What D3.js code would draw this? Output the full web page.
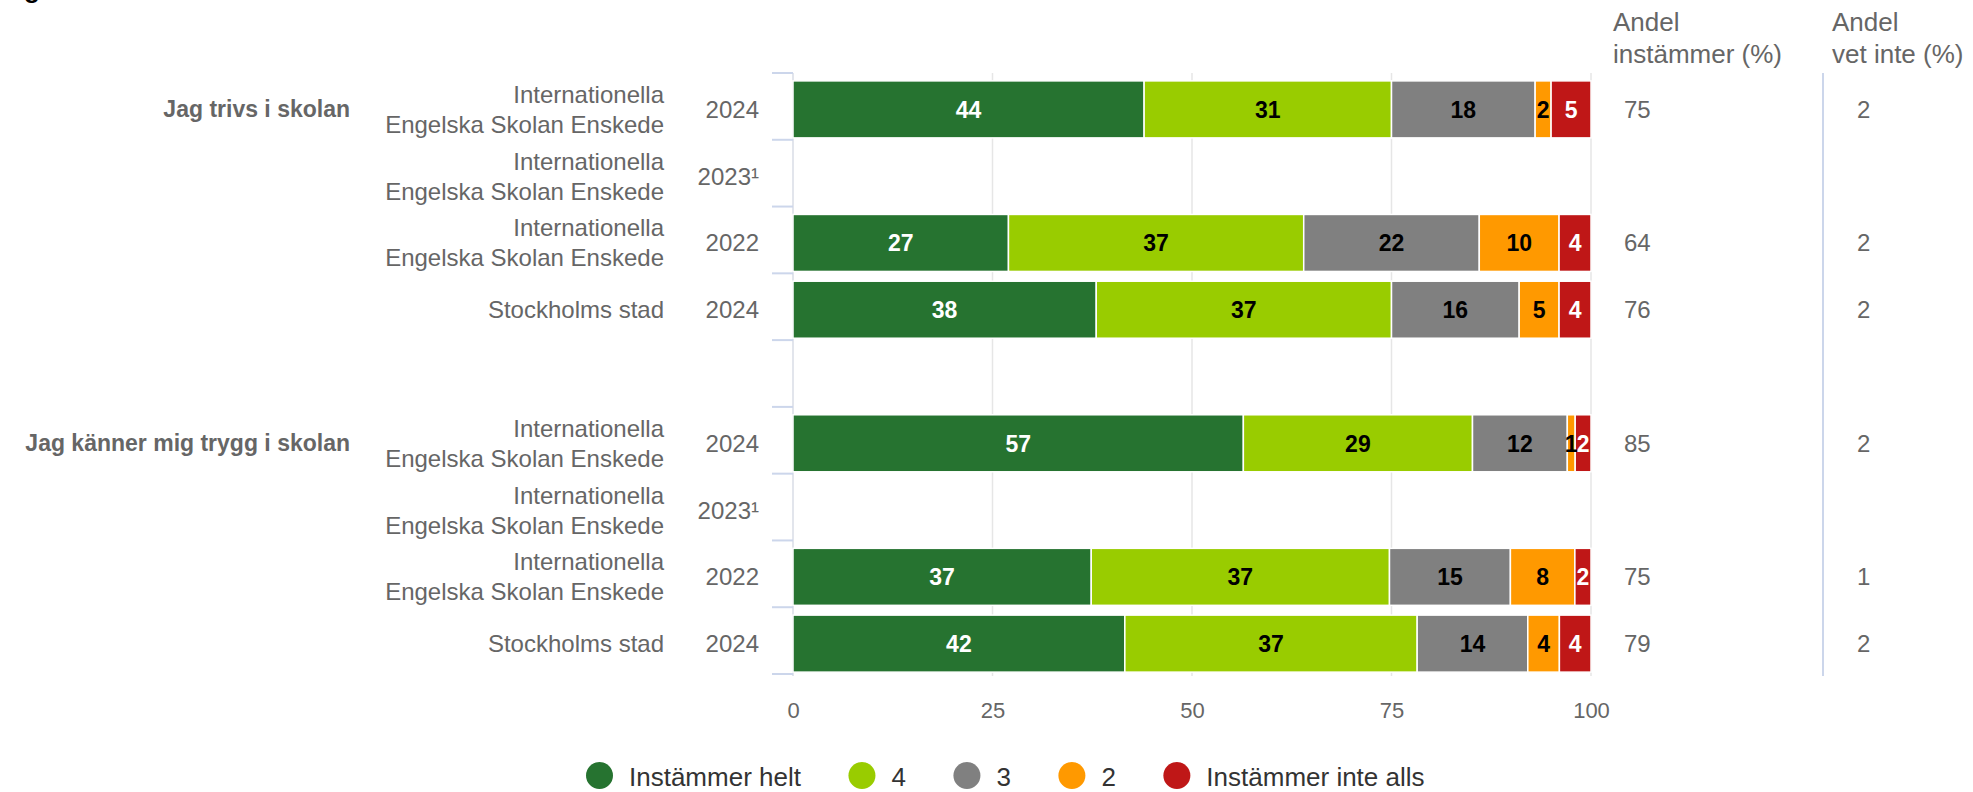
<!DOCTYPE html>
<html>
<head>
<meta charset="utf-8">
<script src="https://cdn.jsdelivr.net/npm/d3@7"></script>
<style>
  html, body { margin: 0; padding: 0; background: #fff; }
  svg { display: block; font-family: "Liberation Sans", Arial, Helvetica, sans-serif; }
</style>
</head>
<body>
<svg id="chart" width="1973" height="792"></svg>
<script>
// ---------- Data ----------
const groupLabels = ["Jag trivs i skolan", "", "", "", "", "Jag känner mig trygg i skolan", "", "", ""];
const unitLabels = [
  ["Internationella", "Engelska Skolan Enskede"],
  ["Internationella", "Engelska Skolan Enskede"],
  ["Internationella", "Engelska Skolan Enskede"],
  ["Stockholms stad"],
  [],
  ["Internationella", "Engelska Skolan Enskede"],
  ["Internationella", "Engelska Skolan Enskede"],
  ["Internationella", "Engelska Skolan Enskede"],
  ["Stockholms stad"]
];
const years = ["2024", "2023¹", "2022", "2024", "", "2024", "2023¹", "2022", "2024"];

const seriesNames = ["Instämmer helt", "4", "3", "2", "Instämmer inte alls"];
const instammerHelt   = [44, null, 27, 38, null, 57, null, 37, 42];
const varde4          = [31, null, 37, 37, null, 29, null, 37, 37];
const varde3          = [18, null, 22, 16, null, 12, null, 15, 14];
const varde2          = [2,  null, 10, 5,  null, 1,  null, 8,  4];
const instammerInte   = [5,  null, 4,  4,  null, 2,  null, 2,  4];

const andelInstammer = [75, null, 64, 76, null, 85, null, 75, 79];
const andelVetInte   = [2,  null, 2,  2,  null, 2,  null, 1,  2];

const xTicks = [0, 25, 50, 75, 100];

// ---------- Styles ----------
const colors = ["#267330", "#99cc00", "#808080", "#ff9900", "#bf1717"];
const labelColors = ["#ffffff", "#000000", "#000000", "#000000", "#ffffff"];

const svg = d3.select("#chart");
const plot = { left: 793, right: 1591, top: 75, bottom: 676 };

const x = d3.scaleLinear().domain([0, 100]).range([plot.left, plot.right]);
const y = d3.scaleBand().domain(d3.range(years.length)).range([plot.top, plot.bottom]).paddingInner(0).paddingOuter(0);
const barH = 57;

// cut-off title remnant at very top
svg.append("text").attr("x", 24).attr("y", -2.5)
  .attr("font-size", 26).attr("font-weight", "bold").attr("fill", "#000").text("g");

// gridlines
svg.append("g").selectAll("line").data(xTicks).join("line")
  .attr("x1", d => x(d)).attr("x2", d => x(d))
  .attr("y1", plot.top - 2).attr("y2", plot.bottom)
  .attr("stroke", "#e6e6e6").attr("stroke-width", 1.5);

// category axis line and ticks
svg.append("line").attr("x1", plot.left).attr("x2", plot.left)
  .attr("y1", plot.top - 2).attr("y2", plot.bottom)
  .attr("stroke", "#dfe3ec").attr("stroke-width", 1.5);
const boundaries = d3.range(years.length + 1).map(i => i === years.length ? plot.bottom : y(i));
svg.append("g").selectAll("line").data(boundaries).join("line")
  .attr("x1", plot.left - 21).attr("x2", plot.left)
  .attr("y1", d => d - 2).attr("y2", d => d - 2)
  .attr("stroke", "#ccd6eb").attr("stroke-width", 2);

// stacked (percent) bars
const allSeries = [instammerHelt, varde4, varde3, varde2, instammerInte];
const rows = years.map((yr, i) => {
  const vals = allSeries.map(s => s[i]);
  if (vals.some(v => v == null)) return null;
  const total = d3.sum(vals);
  let acc = 0;
  return vals.map((v, k) => {
    const seg = { i, k, v, x0: acc / total * 100, x1: (acc + v) / total * 100 };
    acc += v;
    return seg;
  });
}).filter(r => r);
const segs = rows.flat();

const barG = svg.append("g");
barG.selectAll("rect").data(segs).join("rect")
  .attr("x", d => x(d.x0))
  .attr("y", d => y(d.i) + (y.bandwidth() - barH) / 2 + 1)
  .attr("width", d => x(d.x1) - x(d.x0))
  .attr("height", barH)
  .attr("fill", d => colors[d.k])
  .attr("stroke", "#ffffff").attr("stroke-width", 1.5);

barG.selectAll("text").data(segs).join("text")
  .attr("x", d => (x(d.x0) + x(d.x1)) / 2)
  .attr("y", d => y(d.i) + y.bandwidth() / 2 + 1 + 8.5)
  .attr("text-anchor", "middle")
  .attr("font-size", 23).attr("font-weight", "bold")
  .attr("fill", d => labelColors[d.k])
  .text(d => d.v);

// x axis tick labels
const xAxis = d3.axisBottom(x).tickValues(xTicks).tickSize(0).tickPadding(0);
const xg = svg.append("g").attr("transform", `translate(0,${plot.bottom})`).call(xAxis);
xg.select(".domain").remove();
xg.selectAll("text").attr("y", 42).attr("dy", null)
  .attr("font-size", 22).attr("fill", "#666").attr("font-family", "Liberation Sans, Arial, sans-serif");

// category labels
const lab = svg.append("g").attr("fill", "#666");
years.forEach((yr, i) => {
  const cy = y(i) + y.bandwidth() / 2 + 1;
  if (groupLabels[i]) {
    lab.append("text").attr("x", 350).attr("y", cy + 8)
      .attr("text-anchor", "end").attr("font-size", 23).attr("font-weight", "bold")
      .text(groupLabels[i]);
  }
  const lines = unitLabels[i];
  const lh = 30;
  lines.forEach((ln, j) => {
    lab.append("text").attr("x", 664)
      .attr("y", cy + 8.5 + (j - (lines.length - 1) / 2) * lh)
      .attr("text-anchor", "end").attr("font-size", 24).text(ln);
  });
  if (yr) {
    lab.append("text").attr("x", 759).attr("y", cy + 8.5)
      .attr("text-anchor", "end").attr("font-size", 24).text(yr);
  }
  if (andelInstammer[i] != null) {
    lab.append("text").attr("x", 1624).attr("y", cy + 8.5)
      .attr("font-size", 24).text(andelInstammer[i]);
  }
  if (andelVetInte[i] != null) {
    lab.append("text").attr("x", 1857).attr("y", cy + 8.5)
      .attr("font-size", 24).text(andelVetInte[i]);
  }
});

// column headers
const headers = [
  { x: 1613, lines: ["Andel", "instämmer (%)"] },
  { x: 1832, lines: ["Andel", "vet inte (%)"] }
];
headers.forEach(h => {
  h.lines.forEach((ln, j) => {
    svg.append("text").attr("x", h.x).attr("y", 31 + j * 32)
      .attr("font-size", 26).attr("fill", "#666").text(ln);
  });
});

// separator line for column
svg.append("line").attr("x1", 1823).attr("x2", 1823)
  .attr("y1", plot.top - 2).attr("y2", plot.bottom)
  .attr("stroke", "#ccd6eb").attr("stroke-width", 2);

// legend
const leg = svg.append("g");
let lx = 586;
const ly = 775.5;
seriesNames.forEach((name, k) => {
  leg.append("circle").attr("cx", lx + 13.5).attr("cy", ly).attr("r", 13.5).attr("fill", colors[k]);
  const t = leg.append("text").attr("x", lx + 43).attr("y", ly + 10.5)
    .attr("font-size", 26).attr("fill", "#333").text(name);
  const w = t.node().getComputedTextLength();
  lx = lx + 43 + w + 47.5;
});
</script>
</body>
</html>
